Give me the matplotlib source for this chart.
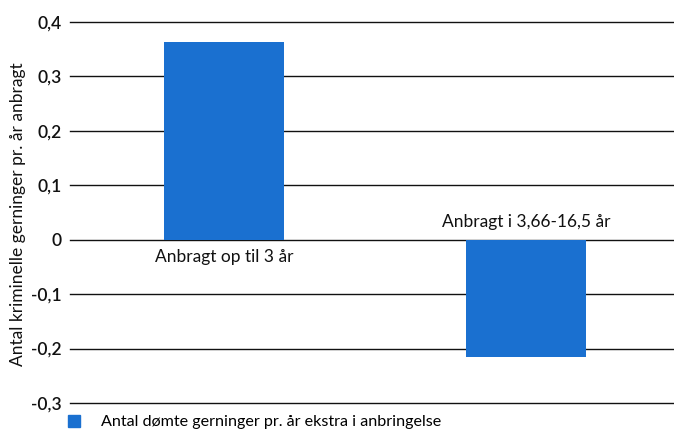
import numpy as np
import matplotlib.pyplot as plt
from matplotlib.patches import Patch

plt.rcParams['font.family'] = ['Lato', 'DejaVu Sans']

categories = ['Anbragt op til 3 år', 'Anbragt i 3,66-16,5 år']
values = [0.363, -0.215]
series_name = 'Antal dømte gerninger pr. år ekstra i anbringelse'
y_label = 'Antal kriminelle gerninger pr. år anbragt'
y_ticks = [-0.3, -0.2, -0.1, 0, 0.1, 0.2, 0.3, 0.4]
y_tick_labels = ['-0,3', '-0,2', '-0,1', '0', '0,1', '0,2', '0,3', '0,4']

bar_color = '#1a70d0'
text_color = '#111111'

fig = plt.figure(figsize=(6.74, 4.30), dpi=100)
ax = fig.add_axes([70 / 674, 1 - 403 / 430, 1 - 70 / 674, (403 - 22) / 430])

x = np.arange(len(categories))
ax.bar(x, values, width=0.40, color=bar_color, zorder=3)

ax.set_ylim(-0.3, 0.4)
ax.set_xlim(-0.51, 1.49)
ax.set_yticks(y_ticks)
ax.set_yticklabels(y_tick_labels, fontsize=12.5, color=text_color, fontweight='semibold')
ax.set_xticks([])
ax.tick_params(axis='y', length=0, pad=6)
ax.grid(axis='y', color='#111111', linewidth=1.0, zorder=0)
for line in ax.get_ygridlines():
    line.set_clip_on(False)
for s in ax.spines.values():
    s.set_visible(False)

# category labels sit next to the zero line, on the side away from the bar
for xi, cat, v in zip(x, categories, values):
    if v >= 0:
        ax.text(xi, -0.017, cat, ha='center', va='top', fontsize=12.5, color=text_color)
    else:
        ax.text(xi, 0.017, cat, ha='center', va='bottom', fontsize=12.5, color=text_color)

fig.text(18 / 674, 1 - 214 / 430, y_label, rotation=90, ha='center', va='center',
         fontsize=12.5, color=text_color)

fig.legend(handles=[Patch(color=bar_color, label=series_name)],
           loc='center left', bbox_to_anchor=(68 / 674, 1 - 422 / 430),
           frameon=False, fontsize=11.6, handlelength=0.75, handleheight=0.75,
           handletextpad=1.3, borderaxespad=0, borderpad=0)

fig.savefig('out.png', dpi=100)
